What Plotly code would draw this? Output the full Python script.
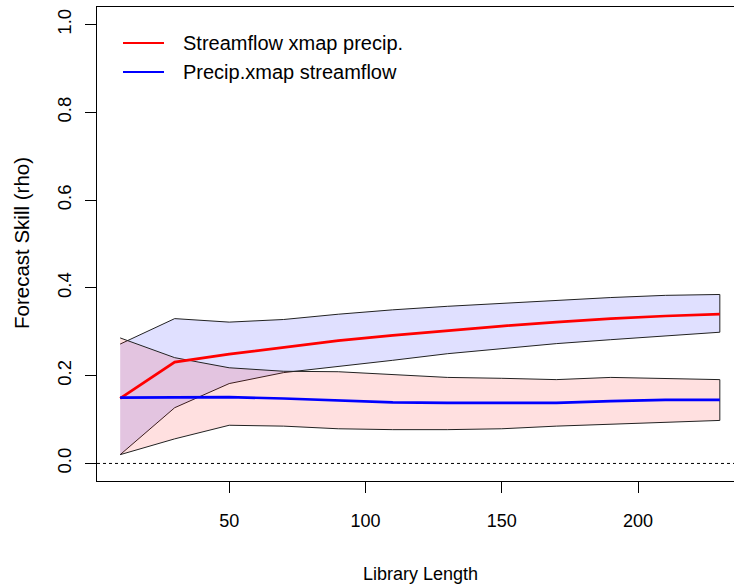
import plotly.graph_objects as go

# Cross-map skill vs. library length, with confidence envelopes
lib_length = [10, 30, 50, 70, 90, 110, 130, 150, 170, 190, 210, 230]

# Streamflow xmap precip.
sf_xmap_pr = [0.148, 0.231, 0.249, 0.264, 0.280, 0.292, 0.303, 0.313, 0.322, 0.330, 0.336, 0.340]
sf_xmap_pr_lo = [0.020, 0.127, 0.182, 0.207, 0.221, 0.235, 0.250, 0.262, 0.273, 0.282, 0.291, 0.299]
sf_xmap_pr_hi = [0.272, 0.330, 0.322, 0.328, 0.340, 0.350, 0.358, 0.365, 0.372, 0.378, 0.383, 0.385]

# Precip. xmap streamflow
pr_xmap_sf = [0.150, 0.150, 0.151, 0.148, 0.143, 0.139, 0.138, 0.138, 0.138, 0.142, 0.145, 0.145]
pr_xmap_sf_lo = [0.020, 0.056, 0.087, 0.085, 0.079, 0.077, 0.077, 0.079, 0.085, 0.089, 0.094, 0.098]
pr_xmap_sf_hi = [0.286, 0.241, 0.218, 0.210, 0.209, 0.202, 0.196, 0.194, 0.191, 0.196, 0.193, 0.191]

series_names = ["Streamflow xmap precip.", "Precip.xmap streamflow"]
series_colors = ["red", "blue"]

y_ticks = [0.0, 0.2, 0.4, 0.6, 0.8, 1.0]
x_ticks = [50, 100, 150, 200]

FONT = "Liberation Sans, Arial, sans-serif"

# plot-area geometry in pixels (used for placing legend/titles in paper units)
W, H = 734, 586
L, R, T, B = 97, 0, 7, 105
PW, PH = W - L - R, H - T - B


def px_to_paper_x(px):
    return (px - L) / PW


def px_to_paper_y(py):
    return 1 - (py - T) / PH


fig = go.Figure()

# envelopes (drawn as closed polygons)
fig.add_trace(go.Scatter(
    x=lib_length + lib_length[::-1],
    y=sf_xmap_pr_hi + sf_xmap_pr_lo[::-1],
    fill="toself", fillcolor="rgba(0,0,255,0.12)",
    line=dict(color="#222222", width=1), mode="lines",
    hoverinfo="skip", showlegend=False,
))
fig.add_trace(go.Scatter(
    x=lib_length + lib_length[::-1],
    y=pr_xmap_sf_hi + pr_xmap_sf_lo[::-1],
    fill="toself", fillcolor="rgba(255,0,0,0.12)",
    line=dict(color="#222222", width=1), mode="lines",
    hoverinfo="skip", showlegend=False,
))

# mean skill lines
fig.add_trace(go.Scatter(x=lib_length, y=sf_xmap_pr, mode="lines",
                         line=dict(color=series_colors[0], width=2.7),
                         name=series_names[0], showlegend=False))
fig.add_trace(go.Scatter(x=lib_length, y=pr_xmap_sf, mode="lines",
                         line=dict(color=series_colors[1], width=2.7),
                         name=series_names[1], showlegend=False))

# zero reference line
fig.add_shape(type="line", xref="paper", yref="y", x0=0, x1=1, y0=0, y1=0,
              line=dict(color="black", width=1, dash="dot"))

# legend (line key + label)
for i, (name, col) in enumerate(zip(series_names, series_colors)):
    yp = px_to_paper_y(43 + 29 * i)
    fig.add_shape(type="line", xref="paper", yref="paper",
                  x0=px_to_paper_x(123), x1=px_to_paper_x(164), y0=yp, y1=yp,
                  line=dict(color=col, width=2))
    fig.add_annotation(xref="paper", yref="paper", x=px_to_paper_x(181), y=yp, text=name,
                       showarrow=False, xanchor="left", yanchor="middle",
                       font=dict(family=FONT, size=20, color="black"))

# axis titles
fig.add_annotation(xref="paper", yref="paper", x=px_to_paper_x(420), y=px_to_paper_y(574),
                   text="Library Length", showarrow=False, xanchor="center", yanchor="middle",
                   font=dict(family=FONT, size=18, color="black"))
fig.add_annotation(xref="paper", yref="paper", x=px_to_paper_x(21), y=px_to_paper_y(243),
                   text="Forecast Skill (rho)", showarrow=False, textangle=-90,
                   xanchor="center", yanchor="middle",
                   font=dict(family=FONT, size=20.5, color="black"))

fig.update_layout(
    width=W, height=H,
    margin=dict(l=L, r=R, t=T, b=B),
    plot_bgcolor="white", paper_bgcolor="white",
    font=dict(family=FONT, color="black"),
    xaxis=dict(
        range=[1.5, 235.2], tickvals=x_ticks, ticktext=[str(v) for v in x_ticks],
        ticks="outside", ticklen=11, tickwidth=1.3, tickcolor="black",
        showline=True, linecolor="black", linewidth=1.3, mirror=True,
        showgrid=False, zeroline=False,
        tickfont=dict(size=18, family=FONT),
        ticklabelstandoff=12,
        automargin=False,
    ),
    yaxis=dict(
        range=[-0.04, 1.04], tickvals=y_ticks, ticktext=["%.1f" % v for v in y_ticks],
        tickangle=-90,
        ticks="outside", ticklen=11, tickwidth=1.3, tickcolor="black",
        showline=True, linecolor="black", linewidth=1.3, mirror=False,
        showgrid=False, zeroline=False,
        tickfont=dict(size=18.5, family=FONT),
        ticklabelstandoff=6,
        automargin=False,
    ),
)

fig.write_html("out.html")
